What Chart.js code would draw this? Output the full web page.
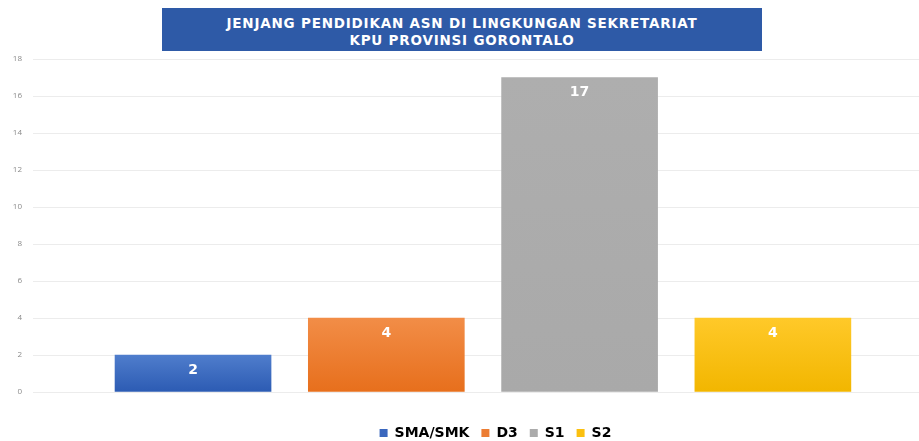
<!DOCTYPE html>
<html>
<head>
<meta charset="utf-8">
<script src="https://cdn.jsdelivr.net/npm/chart.js@4.4.1/dist/chart.umd.min.js"></script>
<style>
  html, body { margin: 0; padding: 0; background: #ffffff; }
  #wrap { position: relative; width: 919px; height: 441px; overflow: hidden; }
  #title {
    position: absolute; left: 162px; top: 8px; width: 600px; height: 43px;
    background: #2E5AA7; color: #ffffff; text-align: center;
    font-family: "DejaVu Sans", sans-serif; font-weight: 700; font-size: 13.5px;
    line-height: 16.5px; padding-top: 7px; box-sizing: border-box; letter-spacing: 0.8px;
    white-space: nowrap;
  }
  canvas { position: absolute; left: 0; top: 0; }
</style>
</head>
<body>
<div id="wrap">
  <canvas id="c" width="919" height="441"></canvas>
  <div id="title">JENJANG PENDIDIKAN ASN DI LINGKUNGAN SEKRETARIAT<br>KPU PROVINSI GORONTALO</div>
</div>
<script>
const titleLines = ["JENJANG PENDIDIKAN ASN DI LINGKUNGAN SEKRETARIAT", "KPU PROVINSI GORONTALO"];
const categories = ["SMA/SMK", "D3", "S1", "S2"];
const values = [2, 4, 17, 4];
const yTicks = [0, 2, 4, 6, 8, 10, 12, 14, 16, 18];
const topColors = ["#4F7DCC", "#F28D47", "#AEAEAE", "#FFC929"];
const bottomColors = ["#2C5BB3", "#E76F1C", "#A9A9A9", "#F2B600"];
const legendColors = ["#3A67BE", "#EC7D33", "#ABABAB", "#FBC010"];

function barFill(ctx) {
  const chart = ctx.chart;
  const i = ctx.dataIndex;
  const ys = chart.scales && chart.scales.y;
  if (!ys || !chart.chartArea || i === undefined) return legendColors[i] || "#999";
  const top = ys.getPixelForValue(values[i]);
  const bot = ys.getPixelForValue(0);
  if (!isFinite(top) || !isFinite(bot) || top === bot) return legendColors[i];
  const g = chart.ctx.createLinearGradient(0, top, 0, bot);
  g.addColorStop(0, topColors[i]);
  g.addColorStop(1, bottomColors[i]);
  return g;
}

const valueLabels = {
  id: "valueLabels",
  afterDatasetsDraw(chart) {
    const ctx = chart.ctx;
    const meta = chart.getDatasetMeta(0);
    ctx.save();
    ctx.fillStyle = "#ffffff";
    ctx.font = "bold 14px 'DejaVu Sans', sans-serif";
    ctx.textAlign = "center";
    ctx.textBaseline = "middle";
    meta.data.forEach((bar, i) => {
      ctx.fillText(String(values[i]), bar.x, bar.y + 15);
    });
    ctx.restore();
  }
};

const legendShift = {
  id: "legendShift",
  afterLayout(chart) {
    const lg = chart.legend;
    if (lg) { lg.left += 36; lg.right += 36; }
  }
};

new Chart(document.getElementById("c"), {
  type: "bar",
  data: {
    datasets: [{
      data: categories.map((c, i) => ({ x: i, y: values[i] })),
      backgroundColor: barFill,
      borderWidth: 0,
      barThickness: 156
    }]
  },
  options: {
    responsive: false,
    animation: false,
    layout: { padding: { top: 59, right: 0, left: 0, bottom: -9 } },
    scales: {
      x: {
        type: "linear",
        min: -0.828,
        max: 3.756,
        offset: false,
        ticks: { display: false },
        grid: { display: false },
        border: { display: false },
        afterFit: s => { s.height = 22; }
      },
      y: {
        min: 0,
        max: 18,
        afterBuildTicks: s => { s.ticks = yTicks.map(v => ({ value: v })); },
        ticks: { color: "#8a8a8a", font: { size: 8, family: "'Open Sans', sans-serif" }, padding: 11 },
        grid: { color: "#ececec", drawTicks: false, lineWidth: 1 },
        border: { display: false },
        afterFit: s => { s.width = 33; }
      }
    },
    plugins: {
      legend: {
        position: "bottom",
        labels: {
          boxWidth: 8,
          boxHeight: 8,
          padding: 12,
          color: "#555555",
          font: { size: 14, weight: "bold", family: "'DejaVu Sans', sans-serif" },
          generateLabels: () => categories.map((c, i) => ({
            text: c, fillStyle: legendColors[i], strokeStyle: legendColors[i], lineWidth: 0, hidden: false, index: i
          }))
        }
      },
      tooltip: { enabled: false }
    }
  },
  plugins: [valueLabels, legendShift]
});
</script>
</body>
</html>
